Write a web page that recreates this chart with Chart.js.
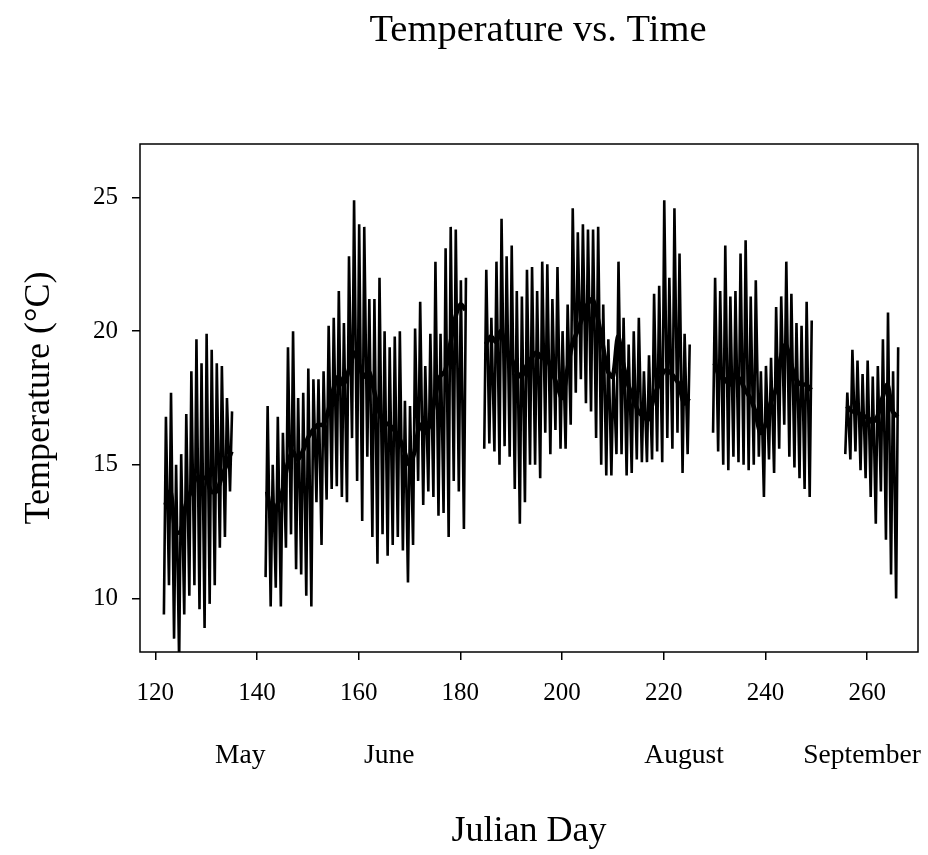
<!DOCTYPE html>
<html>
<head>
<meta charset="utf-8">
<title>Temperature vs. Time</title>
<script src="https://cdn.jsdelivr.net/npm/chart.js@4.4.1/dist/chart.umd.min.js"></script>
<style>
  html, body { margin: 0; padding: 0; background: #fff; }
  #chart { display: block; }
</style>
</head>
<body>
<canvas id="chart" width="928" height="855"></canvas>
<script>
// Julian day of the first entry; null marks days without logger data
const firstDay = 122;

const dailyMax = [
  16.8, 17.7, 15.0, 15.4, 16.9, 18.5, 19.7, 18.8, 19.9, 19.3, 18.8, 18.7, 17.5, 17.0,
  null, null, null, null, null, null,
  17.2, 15.0, 16.8, 16.2, 19.4, 20.0, 17.5, 17.7, 18.6, 18.2, 18.2, 18.5, 20.2, 20.5,
  21.5, 20.3, 22.8, 24.9, 24.0, 23.9, 21.2, 21.2, 22.0, 20.0, 19.4, 19.8, 20.0, 17.4,
  17.2, 20.1, 21.1, 18.7, 19.9, 22.6, 19.9, 23.1, 23.9, 23.8, 21.9, 22.0,
  null, null, null,
  22.3, 20.5, 22.6, 24.2, 22.8, 23.2, 21.5, 21.3, 22.3, 22.4, 21.5, 22.6, 22.5, 21.2,
  22.4, 20.0, 21.0, 24.6, 23.7, 24.0, 23.8, 23.8, 23.9, 21.0, 19.7, 18.5, 22.6, 20.5,
  19.5, 20.0, 20.5, 18.5, 19.1, 21.4, 21.7, 24.9, 22.0, 24.6, 22.9, 19.9, 19.5,
  null, null, null, null,
  22.0, 21.5, 23.2, 21.3, 21.5, 22.9, 23.4, 21.3, 21.9, 18.5, 18.7, 19.0, 20.9, 21.3,
  22.6, 21.4, 20.3, 20.2, 21.1, 20.4,
  null, null, null, null, null, null,
  17.7, 19.3, 18.9, 18.4, 18.9, 18.3, 18.7, 19.7, 20.7, 18.5, 19.4
];

const dailyMin = [
  9.4, 10.5, 8.5, 7.6, 9.4, 10.1, 10.5, 9.6, 8.9, 9.8, 10.5, 11.9, 12.3, 14.0,
  null, null, null, null, null, null,
  10.8, 9.7, 10.4, 9.7, 11.9, 12.4, 11.1, 10.9, 10.1, 9.7, 13.6, 12.0, 13.7, 14.1,
  14.2, 13.8, 13.6, 16.0, 14.4, 12.9, 15.3, 12.3, 11.3, 12.4, 11.6, 12.0, 12.3, 11.8,
  10.6, 12.0, 14.4, 13.5, 14.0, 13.8, 13.1, 13.2, 12.3, 14.4, 14.0, 12.6,
  null, null, null,
  15.6, 15.8, 15.5, 15.0, 15.7, 15.3, 14.1, 12.8, 13.6, 15.0, 15.0, 14.5, 16.2, 15.4,
  16.3, 15.6, 15.6, 16.5, 17.7, 18.2, 17.3, 17.0, 16.0, 15.0, 14.6, 14.6, 15.4, 15.4,
  14.6, 14.7, 15.2, 15.1, 15.1, 15.2, 15.5, 15.1, 16.0, 15.6, 16.2, 14.7, 15.4,
  null, null, null, null,
  16.2, 15.5, 15.0, 14.8, 15.3, 15.1, 15.0, 14.8, 15.0, 15.3, 13.8, 15.2, 14.7, 15.6,
  16.5, 15.3, 14.9, 14.5, 14.1, 13.8,
  null, null, null, null, null, null,
  15.4, 15.2, 15.5, 14.8, 14.5, 13.8, 12.8, 14.0, 12.2, 10.9, 10.0
];

const dailyMean = [
  13.5, 14.0, 12.5, 12.5, 13.5, 14.0, 14.5, 14.5, 14.5, 14.0, 14.0, 14.5, 15.0, 15.5,
  null, null, null, null, null, null,
  14.0, 13.0, 13.5, 14.0, 15.0, 15.5, 15.2, 15.5, 16.0, 16.3, 16.5, 16.5, 17.0, 17.8,
  18.3, 18.0, 18.5, 19.2, 18.8, 18.3, 18.5, 17.8, 17.0, 16.6, 16.5, 16.3, 16.0, 15.5,
  15.0, 15.5, 16.5, 16.2, 16.5, 17.5, 18.3, 18.5, 19.5, 20.5, 21.0, 20.8,
  null, null, null,
  19.5, 19.8, 19.6, 20.0, 19.3, 19.0, 18.5, 18.3, 18.7, 19.0, 19.2, 19.0, 19.0, 18.5,
  18.0, 17.5, 18.5, 19.5, 20.0, 20.5, 21.0, 21.2, 20.5, 19.5, 18.5, 18.3, 19.8, 18.8,
  18.0, 17.5, 17.0, 16.8, 16.7, 17.5, 18.0, 18.5, 18.5, 18.3, 18.0, 17.3, 17.5,
  null, null, null, null,
  18.8, 18.3, 18.2, 18.0, 18.3, 18.2, 17.8, 17.5, 17.0, 16.2, 16.5, 17.3, 17.8, 19.0,
  19.5, 18.8, 18.2, 18.0, 18.0, 17.8,
  null, null, null, null, null, null,
  17.2, 17.0, 17.0, 16.8, 16.8, 16.6, 16.8, 17.5, 18.0, 17.0, 16.8
];

const xTickValues = [120, 140, 160, 180, 200, 220, 240, 260];
const yTickValues = [10, 15, 20, 25];
const monthLabels = ["May", "June", "August", "September"];
const monthLabelDays = [136.7, 166, 224, 259];

const serif = "'Liberation Serif', 'Times New Roman', serif";

// one low and one high per day, so each day shows as a spike
function buildCycle() {
  let pts = [];
  for (let i = 0; i < dailyMax.length; i++) {
    let day = firstDay + i;
    if (dailyMax[i] === null) {
      pts.push({ x: day, y: null });
      continue;
    }
    pts.push({ x: day - 0.3, y: dailyMin[i] });
    pts.push({ x: day + 0.1, y: dailyMax[i] });
  }
  return pts;
}

function buildMean() {
  return dailyMean.map((v, i) => ({ x: firstDay + i, y: v }));
}

const framePlugin = {
  id: "frame",
  afterLayout(chart) {
    // the original title sits a little right of the plot centre
    const t = chart.titleBlock;
    if (t) {
      t.left += 9;
      t.right += 9;
    }
  },
  afterDatasetsDraw(chart) {
    const { ctx, chartArea } = chart;
    ctx.save();
    ctx.strokeStyle = "#000";
    ctx.lineWidth = 1.5;
    ctx.strokeRect(chartArea.left, chartArea.top,
      chartArea.right - chartArea.left, chartArea.bottom - chartArea.top);
    ctx.restore();
  },
};

new Chart(document.getElementById("chart"), {
  type: "line",
  data: {
    datasets: [
      {
        label: "Daily mean",
        data: buildMean(),
        borderColor: "#000",
        borderWidth: 4.5,
        pointRadius: 0,
        tension: 0.3,
        spanGaps: false,
      },
      {
        label: "Temperature",
        data: buildCycle(),
        borderColor: "#000",
        borderWidth: 2.6,
        pointRadius: 0,
        tension: 0,
        spanGaps: false,
      },
    ],
  },
  options: {
    responsive: false,
    devicePixelRatio: 1,
    animation: false,
    layout: { padding: { left: 0, right: 10, top: 0, bottom: 0 } },
    plugins: {
      legend: { display: false },
      tooltip: { enabled: false },
      title: {
        display: true,
        text: "Temperature vs. Time",
        fullSize: false,
        color: "#000",
        font: { family: serif, size: 38.5, weight: "normal" },
        padding: { top: 8, bottom: 89.8 },
      },
    },
    scales: {
      x: {
        type: "linear",
        position: "bottom",
        min: 117,
        max: 270,
        weight: 0,
        border: { display: false },
        grid: { display: true, drawOnChartArea: false, drawTicks: true, tickLength: 8, color: "#000", lineWidth: 1.5 },
        ticks: {
          color: "#000",
          padding: 18,
          maxRotation: 0,
          autoSkip: false,
          font: { family: serif, size: 25 },
          callback: (v) => String(v),
        },
        afterBuildTicks: (scale) => {
          scale.ticks = xTickValues.map((v) => ({ value: v }));
        },
        afterFit: (scale) => {
          scale.height = 58;
        },
      },
      xm: {
        type: "linear",
        position: "bottom",
        min: 117,
        max: 270,
        weight: 1,
        border: { display: false },
        // invisible tick marks push the month names down without widening the side padding
        grid: { display: true, drawOnChartArea: false, drawTicks: true, tickLength: 29, color: "rgba(0,0,0,0)" },
        ticks: {
          color: "#000",
          padding: 0,
          maxRotation: 0,
          autoSkip: false,
          font: { family: serif, size: 27.5 },
          callback: (v, i) => monthLabels[i],
        },
        afterBuildTicks: (scale) => {
          scale.ticks = monthLabelDays.map((v) => ({ value: v }));
        },
        title: {
          display: true,
          text: "Julian Day",
          color: "#000",
          font: { family: serif, size: 36 },
          padding: { top: 0, bottom: 1.5 },
        },
        afterFit: (scale) => {
          scale.height = 145;
        },
      },
      y: {
        type: "linear",
        min: 8,
        max: 27,
        border: { display: false },
        grid: { display: true, drawOnChartArea: false, drawTicks: true, tickLength: 8, color: "#000", lineWidth: 1.5 },
        ticks: {
          color: "#000",
          padding: 14,
          font: { family: serif, size: 25 },
          callback: (v) => String(v),
        },
        afterBuildTicks: (scale) => {
          scale.ticks = yTickValues.map((v) => ({ value: v }));
        },
        title: {
          display: true,
          text: "Temperature (\u00B0C)",
          color: "#000",
          font: { family: serif, size: 36 },
          padding: { top: 18.4, bottom: 0 },
        },
        afterFit: (scale) => {
          scale.width = 140;
        },
      },
    },
  },
  plugins: [framePlugin],
});
</script>
</body>
</html>
